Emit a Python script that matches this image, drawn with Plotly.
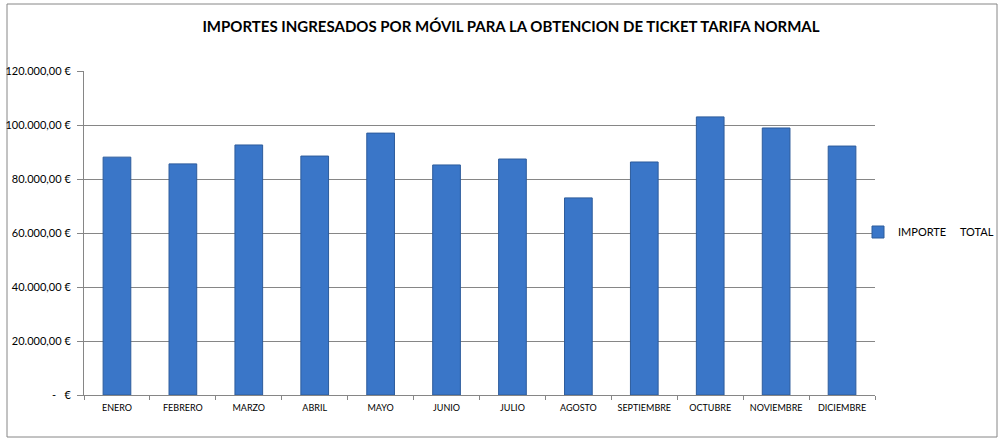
import plotly.graph_objects as go

months = ["ENERO", "FEBRERO", "MARZO", "ABRIL", "MAYO", "JUNIO", "JULIO",
          "AGOSTO", "SEPTIEMBRE", "OCTUBRE", "NOVIEMBRE", "DICIEMBRE"]
importe_total = [88100, 85600, 92600, 88500, 97000, 85200, 87400,
                 73000, 86300, 103000, 98900, 92200]
y_tick_vals = [0, 20000, 40000, 60000, 80000, 100000, 120000]
y_tick_text = ["-   €", "20.000,00 €", "40.000,00 €", "60.000,00 €",
               "80.000,00 €", "100.000,00 €", "120.000,00 €"]

W, H = 1002, 438
L, R, T, B = 84, 875, 71, 395
FONT = "Lato, Open Sans, sans-serif"

fig = go.Figure()
fig.add_trace(go.Bar(
    x=months, y=importe_total,
    name="IMPORTE\u00a0\u00a0\u00a0\u00a0\u00a0TOTAL",
    marker=dict(color="#3a76c8", line=dict(color="#2d5c9c", width=1)),
    width=0.42,
))

fig.update_layout(
    width=W, height=H, autosize=False,
    margin=dict(l=L, r=W - R, t=T, b=H - B, pad=0, autoexpand=False),
    paper_bgcolor="white", plot_bgcolor="white",
    font=dict(family=FONT, color="#000000"),
    title=dict(text="<b>IMPORTES INGRESADOS POR MÓVIL PARA LA OBTENCION DE TICKET TARIFA NORMAL</b>",
               x=511 / W, xanchor="center", y=1 - 27 / H, yanchor="middle",
               font=dict(size=15, family=FONT)),
    showlegend=True,
    legend=dict(xref="container", yref="container",
                x=858 / W, xanchor="left", y=1 - 232 / H, yanchor="middle",
                font=dict(size=11), itemwidth=30, bgcolor="rgba(0,0,0,0)"),
    bargap=0.58,
)
fig.update_xaxes(
    automargin=False,
    showline=True, linecolor="#868686", linewidth=1,
    ticks="outside", tickson="boundaries", ticklen=4, tickcolor="#868686",
    ticklabelstandoff=4, tickangle=0,
    tickfont=dict(size=9), showgrid=False,
)
fig.update_yaxes(
    automargin=False,
    range=[0, 120000], tickvals=y_tick_vals, ticktext=y_tick_text,
    showline=True, linecolor="#868686", linewidth=1,
    ticks="outside", ticklen=6, tickcolor="#868686",
    ticklabelstandoff=4,
    showgrid=True, gridcolor="#868686", gridwidth=1,
    tickfont=dict(size=11), zeroline=False,
)
# outer chart border
fig.add_shape(type="rect", xref="paper", yref="paper",
              x0=(7 - L) / (R - L), x1=(997 - L) / (R - L),
              y0=(B - 437) / (B - T), y1=(B - 4) / (B - T),
              line=dict(color="#868686", width=1), fillcolor="rgba(0,0,0,0)", layer="below")

fig.write_html("out.html", config={"displayModeBar": False},
               post_script="document.body.style.margin='0';")
